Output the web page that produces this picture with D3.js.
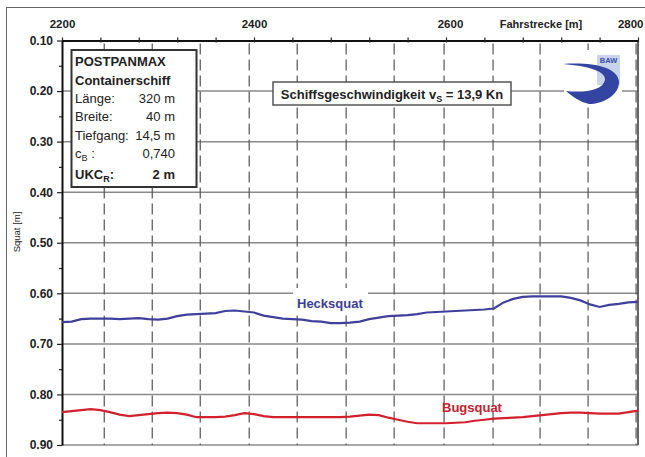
<!DOCTYPE html>
<html><head><meta charset="utf-8">
<script src="https://cdn.jsdelivr.net/npm/d3@7"></script>
<style>
html,body{margin:0;padding:0;background:#fff;}
svg{display:block;font-family:"Liberation Sans",Arial,sans-serif;}
</style></head>
<body>
<svg id="c" width="645" height="457"></svg>
<script>
// ---- data ----
const distance = [2200,2210,2220,2230,2240,2250,2260,2270,2280,2290,2300,2310,2320,2330,2340,2350,2360,2370,2380,2390,2400,2410,2420,2430,2440,2450,2460,2470,2480,2490,2500,2510,2520,2530,2540,2550,2560,2570,2580,2590,2600,2610,2620,2630,2640,2650,2660,2670,2680,2690,2700,2710,2720,2730,2740,2750,2760,2770,2780,2790,2800];
const hecksquat = [0.657,0.656,0.651,0.650,0.650,0.650,0.651,0.650,0.649,0.651,0.652,0.650,0.645,0.642,0.641,0.640,0.639,0.635,0.634,0.636,0.638,0.644,0.647,0.650,0.651,0.652,0.655,0.656,0.659,0.659,0.658,0.656,0.651,0.648,0.645,0.644,0.643,0.641,0.638,0.637,0.636,0.635,0.634,0.633,0.632,0.630,0.618,0.611,0.607,0.606,0.606,0.606,0.606,0.609,0.614,0.622,0.627,0.623,0.621,0.618,0.617];
const bugsquat = [0.835,0.833,0.831,0.829,0.831,0.835,0.840,0.843,0.841,0.839,0.837,0.836,0.837,0.840,0.845,0.845,0.845,0.844,0.841,0.837,0.839,0.843,0.845,0.845,0.845,0.845,0.845,0.845,0.845,0.845,0.844,0.842,0.840,0.841,0.846,0.850,0.854,0.857,0.857,0.857,0.857,0.856,0.855,0.852,0.850,0.848,0.847,0.846,0.845,0.843,0.841,0.839,0.837,0.836,0.836,0.837,0.838,0.838,0.838,0.835,0.832];
const xTickLabels = [2200,2400,2600,2800];
const xMinorTicks = [2200,2240,2280,2320,2360,2400,2440,2480,2520,2560,2600,2640,2680,2720,2760,2800];
const xGridLines = [2244,2294,2344,2395,2445,2496,2546,2598,2649,2698,2748,2798];
const yTickLabels = [0.1,0.2,0.3,0.4,0.5,0.6,0.7,0.8,0.9];
const yMinorTicks = [0.15,0.25,0.35,0.45,0.55,0.65,0.75,0.85];
const yGridLines = [0.2,0.3,0.4,0.5,0.6,0.7,0.8];
const infoLines = [
  {label:"POSTPANMAX", bold:true},
  {label:"Containerschiff", bold:true},
  {label:"Länge:", value:"320 m"},
  {label:"Breite:", value:"40 m"},
  {label:"Tiefgang:", value:"14,5 m"},
  {label:"c", sub:"B", after:" :", value:"0,740"},
  {label:"UKC", sub:"R", after:":", value:"2 m", bold:true}
];

// ---- chart ----
const svg = d3.select("#c");
const x = d3.scaleLinear().domain([2200,2800]).range([62,638]);
const y = d3.scaleLinear().domain([0.1,0.9]).range([40.5,445]);

// outer frame
svg.append("rect").attr("x",6.5).attr("y",7.5).attr("width",660).attr("height",470)
  .attr("fill","none").attr("stroke","#666").attr("stroke-width",1);

// horizontal grid
svg.append("g").selectAll("line").data(yGridLines).join("line")
  .attr("x1",x(2200)).attr("x2",x(2800)).attr("y1",d=>y(d)).attr("y2",d=>y(d))
  .attr("stroke","#8a8a8a").attr("stroke-width",1.5);
// vertical dashed grid
svg.append("g").selectAll("line").data(xGridLines).join("line")
  .attr("x1",d=>x(d)).attr("x2",d=>x(d)).attr("y1",y(0.1)+3).attr("y2",y(0.9))
  .attr("stroke","#555").attr("stroke-width",1.2).attr("stroke-dasharray","11,5");

// axes frame
svg.append("line").attr("x1",x(2800)).attr("x2",x(2800)).attr("y1",y(0.1)).attr("y2",y(0.9))
  .attr("stroke","#333").attr("stroke-width",1.5);
svg.append("line").attr("x1",x(2200)).attr("x2",x(2800)).attr("y1",y(0.9)).attr("y2",y(0.9))
  .attr("stroke","#555").attr("stroke-width",1.2);

// top axis
const topAxis = svg.append("g").attr("transform",`translate(0,${y(0.1)})`)
  .call(d3.axisTop(x).tickValues(xMinorTicks).tickSize(3).tickSizeOuter(0).tickFormat(""));
topAxis.select(".domain").attr("stroke","#111").attr("stroke-width",2);
topAxis.selectAll(".tick line").attr("y2",-3).attr("y1",2).attr("stroke","#222").attr("stroke-width",1.2);
const topLabels = svg.append("g").attr("transform",`translate(0,${y(0.1)})`)
  .call(d3.axisTop(x).tickValues(xTickLabels).tickSize(0).tickPadding(13).tickFormat(d3.format("d")));
topLabels.select(".domain").remove();
topLabels.selectAll("text").attr("font-size",11.5).attr("font-weight","bold").attr("fill","#222")
  .attr("font-family","Liberation Sans, Arial, sans-serif");
topLabels.selectAll("text").filter(d=>d===2800).attr("text-anchor","end").attr("dx",5);
topLabels.selectAll("text").filter(d=>d===2600).attr("dx",4);
svg.append("text").attr("x",541).attr("y",28).attr("text-anchor","middle")
  .attr("font-size",11).attr("font-weight","bold").attr("fill","#222").text("Fahrstrecke [m]");

// left axis
const leftAxis = svg.append("g").attr("transform",`translate(${x(2200)},0)`)
  .call(d3.axisLeft(y).tickValues(yTickLabels).tickSize(5).tickSizeOuter(0).tickPadding(4).tickFormat(d3.format(".2f")));
leftAxis.select(".domain").attr("stroke","#111").attr("stroke-width",2);
leftAxis.selectAll(".tick line").attr("stroke","#222").attr("stroke-width",1.2);
leftAxis.selectAll("text").attr("font-size",12).attr("font-weight","bold").attr("fill","#222")
  .attr("font-family","Liberation Sans, Arial, sans-serif");
const leftMinor = svg.append("g").attr("transform",`translate(${x(2200)},0)`)
  .call(d3.axisLeft(y).tickValues(yMinorTicks).tickSize(3).tickSizeOuter(0).tickFormat(""));
leftMinor.select(".domain").remove();
leftMinor.selectAll(".tick line").attr("stroke","#222").attr("stroke-width",1.2);

svg.append("text").attr("transform","translate(20,232) rotate(-90)").attr("text-anchor","middle")
  .attr("font-size",9.5).attr("fill","#222").text("Squat [m]");

// label backgrounds
svg.append("rect").attr("x",293).attr("y",288).attr("width",75).attr("height",27).attr("fill","#fff");

// data lines
const line = d3.line().x((d,i)=>x(distance[i])).y(d=>y(d));
svg.append("path").datum(hecksquat).attr("d",line).attr("fill","none")
  .attr("stroke","#3e409b").attr("stroke-width",2.2);
svg.append("path").datum(bugsquat).attr("d",line).attr("fill","none")
  .attr("stroke","#d3202f").attr("stroke-width",2.2);

svg.append("text").attr("x",297).attr("y",308).attr("font-size",13).attr("font-weight","bold")
  .attr("fill","#3b3e94").text("Hecksquat");
svg.append("text").attr("x",442).attr("y",412).attr("font-size",13).attr("font-weight","bold")
  .attr("fill","#c8202c").text("Bugsquat");

// info box
svg.append("rect").attr("x",71.5).attr("y",50).attr("width",125).attr("height",137)
  .attr("fill","#fff").attr("stroke","#333").attr("stroke-width",2);
const baseY = [66,85,103,121,140,158,179];
infoLines.forEach((l,i)=>{
  const t = svg.append("text").attr("x",75).attr("y",baseY[i]).attr("font-size",13)
    .attr("font-weight",l.bold?"bold":"normal").attr("fill","#222");
  t.append("tspan").text(l.label);
  if(l.sub){
    t.append("tspan").attr("font-size",9).attr("dy",3).text(l.sub);
    t.append("tspan").attr("dy",-3).text(l.after);
  }
  if(l.value){
    svg.append("text").attr("x",175).attr("y",baseY[i]).attr("text-anchor","end").attr("font-size",13)
      .attr("font-weight",l.bold?"bold":"normal").attr("fill","#222").text(l.value);
  }
});

// speed box
svg.append("rect").attr("x",273).attr("y",82).attr("width",238).attr("height",23)
  .attr("fill","#fff").attr("stroke","#555").attr("stroke-width",1.5);
const sp = svg.append("text").attr("x",392).attr("y",98.5).attr("text-anchor","middle")
  .attr("font-size",13).attr("font-weight","bold").attr("fill","#222");
sp.append("tspan").text("Schiffsgeschwindigkeit v");
sp.append("tspan").attr("font-size",9).attr("dy",3).text("S");
sp.append("tspan").attr("dy",-3).text(" = 13,9 Kn");

// BAW logo
const logo = svg.append("g");
logo.append("rect").attr("x",564).attr("y",50).attr("width",58).attr("height",54).attr("fill","#fff");
logo.append("rect").attr("x",597).attr("y",55).attr("width",23).attr("height",30).attr("fill","#c9d3ec");
logo.append("text").attr("x",608.5).attr("y",63).attr("text-anchor","middle").attr("font-size",7.5)
  .attr("font-weight","bold").attr("fill","#3a4fa8").text("BAW");
logo.append("path")
  .attr("d","M563,64 C590,62 618,66 619,82 C619,96 602,104 589,104 C580,102 573,97 566,91 C586,93 603,90 605,80 C606,71 588,66 563,64 Z")
  .attr("fill","#3344a3");
</script>
</body></html>
